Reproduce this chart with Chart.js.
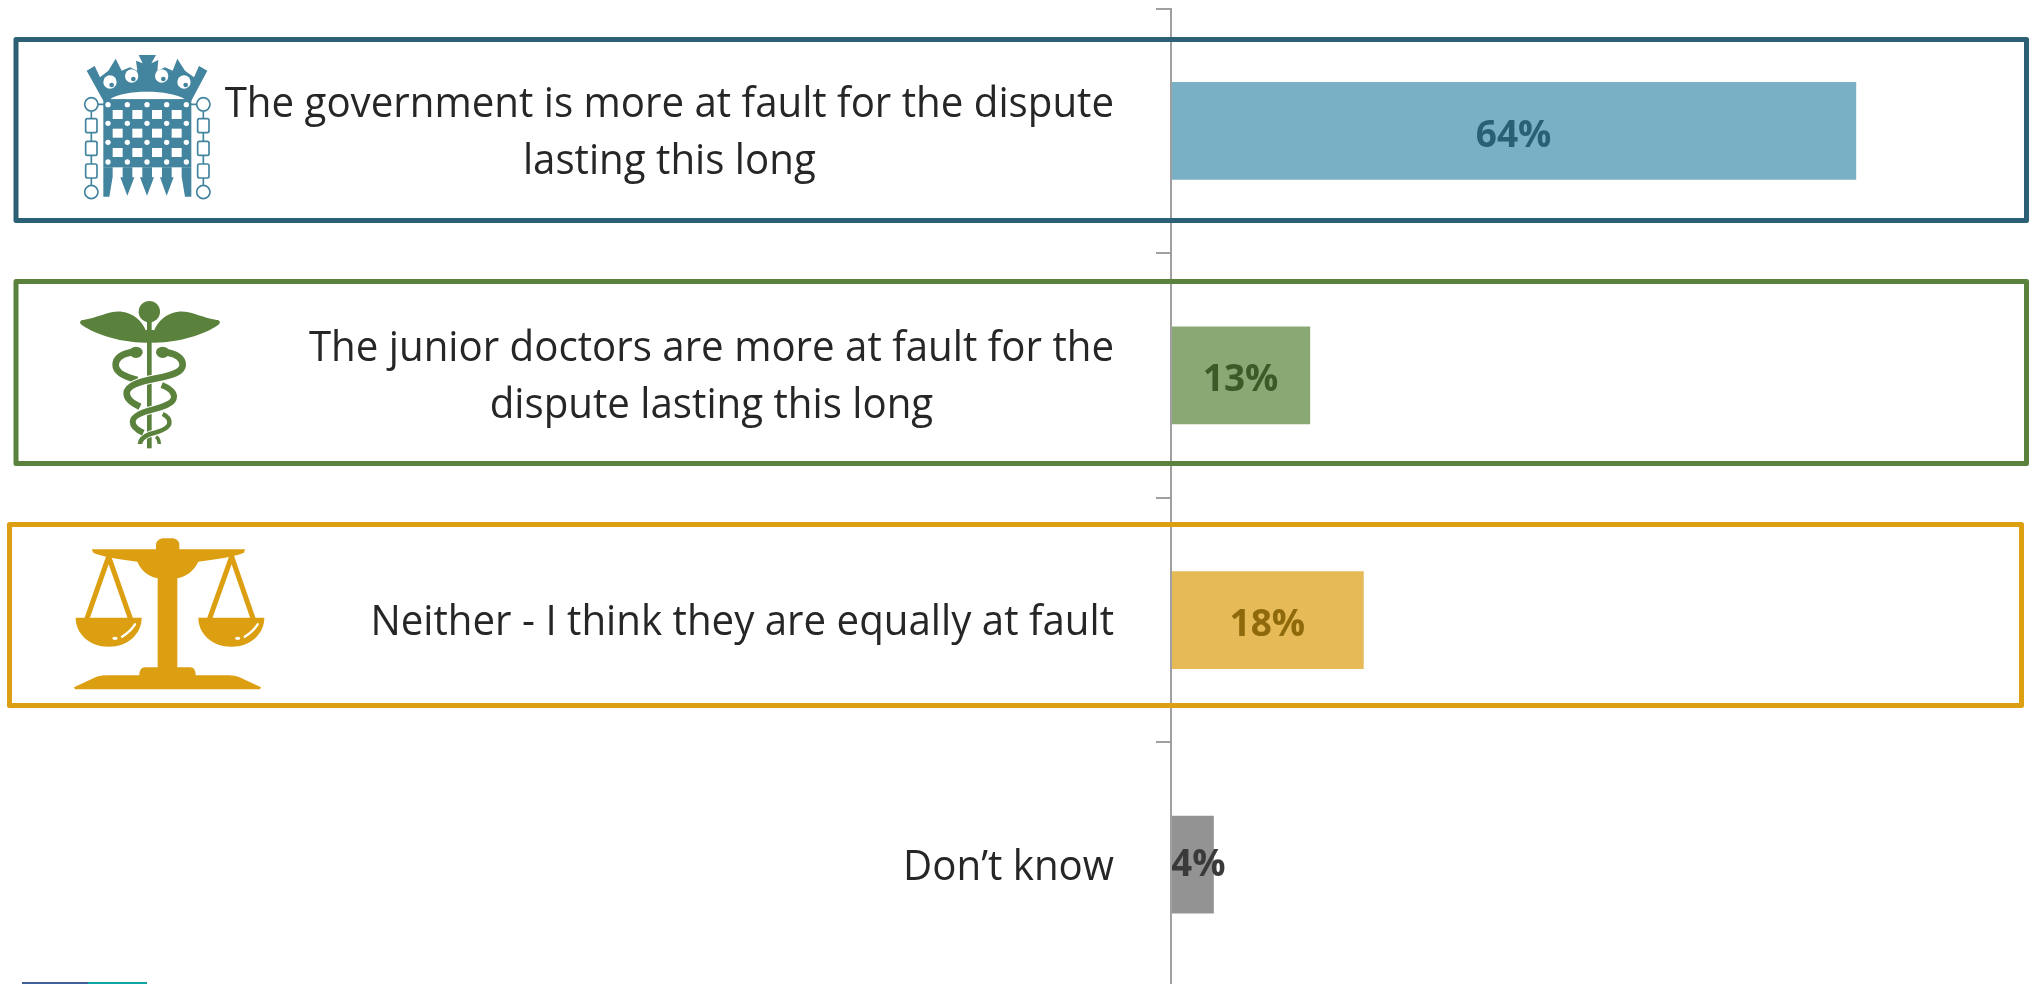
<!DOCTYPE html>
<html>
<head>
<meta charset="utf-8">
<title>Who is more at fault for the dispute</title>
<script src="https://cdn.jsdelivr.net/npm/chart.js@4"></script>
<style>
  html, body { margin: 0; padding: 0; background: #fff; overflow: hidden; width: 2031px; height: 984px; }
  canvas { display: block; }
</style>
</head>
<body>
<canvas id="faultChart" width="2031" height="990"></canvas>
<script>
const categories = [
    ["The government is more at fault for the dispute", "lasting this long"],
    ["The junior doctors are more at fault for the", "dispute lasting this long"],
    "Neither - I think they are equally at fault",
    "Don\u2019t know"
];
const values = [64, 13, 18, 4];
const barColors = ["#7AB0C5", "#8AA874", "#E5BA57", "#939393"];
const valueColors = ["#2A5F74", "#3C5A28", "#8F6A0C", "#3A3A3A"];
const valueDrop = [16, 16, 16, 11];

const axisColor = "#A0A0A0";
const textFont = "'Open Sans', sans-serif";
const labelRight = 1114;
const labelSqueeze = 0.958;

// coloured frames round the first three rows: x, y, w, h, colour
const frames = [
    [16, 39.5, 2010.5, 181, "#2C6075"],
    [16, 281.5, 2010.5, 182, "#5A823C"],
    [9.5, 524.5, 2012, 181, "#DB9F11"]
];

// the icons are drawn at 3x from their own origin
function inIcon(ctx, x, y, draw){
    ctx.save();
    ctx.translate(x, y);
    ctx.scale(1 / 3, 1 / 3);
    draw();
    ctx.restore();
}

function dot(ctx, x, y, r){
    ctx.beginPath();
    ctx.arc(x, y, r, 0, Math.PI * 2);
    ctx.fill();
}

function drawPortcullis(ctx){
    const c = "#43849E";
    ctx.fillStyle = c;
    ctx.fill(new Path2D("M160 182 L110 92 L134 78 L150 112 L175 92 L197 56 L215 92 L240 82 L262 92 L258 62 L278 70 L266 45 L318 45 L304 70 L325 60 L322 92 L345 82 L368 92 L382 56 L405 92 L432 112 L447 78 L472 92 L424 182 Z"));
    ctx.fillStyle = "#fff";
    ctx.fill(new Path2D("M180 178 C220 148 360 148 405 178 Z"));
    [[180, 126, 20], [245, 108, 20], [335, 108, 20], [402, 126, 20]].forEach(function(b){
        ctx.fillStyle = "#fff";
        dot(ctx, b[0], b[1], b[2]);
        ctx.fillStyle = c;
        dot(ctx, b[0] + 5, b[1] + 9, 7);
    });
    // body and spikes
    ctx.fillStyle = c;
    ctx.fillRect(160, 178, 264, 204);
    ctx.fill(new Path2D("M160 382 L160 470 L178 470 L188 410 L188 382 Z M424 382 L424 470 L405 470 L395 410 L395 382 Z"));
    ctx.fill(new Path2D("M218 382 L247 382 L247 412 L253 412 L232 467 L211 412 L218 412 Z"));
    ctx.fill(new Path2D("M277 382 L306 382 L306 412 L312 412 L291 467 L270 412 L277 412 Z"));
    ctx.fill(new Path2D("M336 382 L365 382 L365 412 L371 412 L350 467 L330 412 L336 412 Z"));
    ctx.fillStyle = "#fff";
    [210, 266, 324].forEach(function(y){
        [188, 247, 306, 365].forEach(function(x){
            ctx.fillRect(x, y, 30, 27);
        });
    });
    [194, 250, 307, 366].forEach(function(y){
        [174, 232, 291, 350, 409].forEach(function(x){
            dot(ctx, x, y, 8);
        });
    });
    // chains
    ctx.strokeStyle = c;
    ctx.lineWidth = 5;
    [[124, 144, 165], [460, 440, 418]].forEach(function(side){
        const x = side[0];
        ctx.beginPath();
        ctx.moveTo(side[1], 193);
        ctx.lineTo(side[2], 193);
        ctx.moveTo(x, 213);
        ctx.lineTo(x, 436);
        ctx.stroke();
        [236, 304, 372].forEach(function(y){
            ctx.beginPath();
            ctx.roundRect(x - 17, y, 34, 42, 5);
            ctx.fillStyle = "#fff";
            ctx.fill();
            ctx.stroke();
        });
        [193, 456].forEach(function(y){
            ctx.beginPath();
            ctx.arc(x, y, 20, 0, Math.PI * 2);
            ctx.stroke();
        });
    });
}

function drawCaduceus(ctx){
    const c = "#5A823C";
    function strand(path, w){
        const p = new Path2D(path);
        ctx.lineCap = "butt";
        ctx.strokeStyle = "#fff";
        ctx.lineWidth = w + 6;
        ctx.stroke(p);
        ctx.strokeStyle = c;
        ctx.lineWidth = w;
        ctx.stroke(p);
    }
    ctx.fillStyle = c;
    ctx.fillRect(291, 90, 14, 385);
    dot(ctx, 298, 65, 32);
    ctx.fill(new Path2D("M288 158 C200 158 120 125 92 102 C88 95 92 90 100 90 C140 85 175 62 215 65 C250 68 278 95 288 122 Z"));
    ctx.fill(new Path2D("M312 158 C400 158 480 125 508 102 C512 95 508 90 500 90 C460 85 425 62 385 65 C350 68 322 95 312 122 Z"));
    ctx.fillRect(288, 120, 24, 38);
    strand("M318 440 C325 445 328 455 328 462", 10);
    strand("M338 372 C355 380 360 390 358 400 C355 415 330 425 300 432 C280 440 270 450 270 462", 14);
    strand("M335 285 C360 295 372 305 372 320 C372 340 340 350 310 358 C270 368 248 380 248 395 C248 410 262 420 280 428", 18);
    strand("M258 185 C215 190 197 205 197 225 C197 250 230 262 262 270", 20);
    strand("M335 185 C380 190 398 205 398 225 C398 245 370 255 320 265 C270 275 230 285 230 310 C230 330 250 340 270 350", 20);
    ctx.fillStyle = c;
    [258, 338].forEach(function(x){
        ctx.beginPath();
        ctx.ellipse(x, 187, 20, 17, 0, 0, Math.PI * 2);
        ctx.fill();
    });
}

function drawScales(ctx){
    const c = "#DB9F11";
    ctx.fillStyle = c;
    ctx.strokeStyle = c;
    ctx.fill(new Path2D("M125 58 L318 58 L318 45 C318 32 330 25 342 25 L365 25 C378 25 388 32 388 45 L388 58 L585 58 L582 68 C560 78 500 88 445 95 C430 125 410 138 382 145 L382 412 L420 412 C432 412 437 422 437 436 L535 436 C550 436 565 440 575 445 L633 472 L630 478 L75 478 L72 472 L130 445 C140 440 155 436 170 436 L268 436 C268 422 274 412 285 412 L323 412 L323 145 C295 138 275 125 262 95 C205 88 150 78 130 68 Z"));
    [[176, 110, 242], [545, 478, 610]].forEach(function(t){
        ctx.lineWidth = 15;
        ctx.beginPath();
        ctx.moveTo(t[1], 268);
        ctx.lineTo(t[0], 80);
        ctx.lineTo(t[2], 268);
        ctx.stroke();
    });
    [176, 544].forEach(function(x){
        ctx.fillStyle = c;
        ctx.fill(new Path2D("M" + (x - 99) + " 263 L" + (x + 99) + " 263 C" + (x + 99) + " 310 " + (x + 59) + " 350 " + x + " 350 C" + (x - 59) + " 350 " + (x - 99) + " 310 " + (x - 99) + " 263 Z"));
        ctx.strokeStyle = "#fff";
        ctx.lineWidth = 7;
        ctx.lineCap = "round";
        ctx.beginPath();
        ctx.moveTo(x + 40, 320);
        ctx.quadraticCurveTo(x + 65, 305, x + 79, 283);
        ctx.stroke();
        ctx.fillStyle = "#fff";
        ctx.beginPath();
        ctx.ellipse(x + 19, 325, 8, 5, 0, 0, Math.PI * 2);
        ctx.fill();
        ctx.strokeStyle = c;
        ctx.lineCap = "butt";
    });
}

// row labels are centred on each other but right aligned as a block,
// which the axis ticks can't do, so they get drawn here
const rowLabels = {
    id: "rowLabels",
    afterDraw(chart){
        const ctx = chart.ctx;
        const y = chart.scales.y;
        ctx.save();
        ctx.font = "42px " + textFont;
        ctx.fillStyle = "#262626";
        ctx.textBaseline = "alphabetic";
        chart.data.labels.forEach(function(label, i){
            const lines = Array.isArray(label) ? label : [label];
            const center = y.getPixelForTick(i);
            const blockWidth = Math.max.apply(null, lines.map(l => ctx.measureText(l).width));
            lines.forEach(function(line, n){
                const w = ctx.measureText(line).width;
                ctx.save();
                ctx.translate(labelRight, center + 15 - 29 * (lines.length - 1) + 57 * n);
                ctx.scale(labelSqueeze, 1);
                ctx.fillText(line, -blockWidth + (blockWidth - w) / 2, 0);
                ctx.restore();
            });
        });
        ctx.restore();
    }
};

const valueLabels = {
    id: "valueLabels",
    afterDatasetsDraw(chart){
        const ctx = chart.ctx;
        const meta = chart.getDatasetMeta(0);
        ctx.save();
        ctx.font = "bold 37px " + textFont;
        ctx.textAlign = "center";
        ctx.textBaseline = "alphabetic";
        meta.data.forEach(function(bar, i){
            const text = values[i] + "%";
            const half = ctx.measureText(text).width / 2;
            const x = Math.max((bar.base + bar.x) / 2, bar.base + half);
            ctx.fillStyle = valueColors[i];
            ctx.fillText(text, x, bar.y + valueDrop[i]);
        });
        ctx.restore();
    }
};

const decorations = {
    id: "decorations",
    afterDraw(chart){
        const ctx = chart.ctx;
        ctx.save();
        frames.forEach(function(f){
            ctx.strokeStyle = f[4];
            ctx.lineWidth = 5;
            ctx.lineJoin = "round";
            ctx.strokeRect(f[0], f[1], f[2], f[3]);
        });
        ctx.lineJoin = "miter";
        inIcon(ctx, 50, 40, function(){ drawPortcullis(ctx); });
        inIcon(ctx, 50, 290, function(){ drawCaduceus(ctx); });
        inIcon(ctx, 50, 530, function(){ drawScales(ctx); });
        // corner of the slide footer showing at the bottom
        ctx.fillStyle = "#46609F";
        ctx.fillRect(22, 982, 66, 2);
        ctx.fillStyle = "#0FA3A3";
        ctx.fillRect(88, 982, 59, 2);
        ctx.restore();
    }
};

var ctx = document.getElementById("faultChart").getContext("2d");
var myChart = new Chart(ctx, {
    type: "bar",
    data: {
        labels: categories,
        datasets: [{
            data: values,
            backgroundColor: barColors,
            borderWidth: 0,
            barPercentage: 0.4,
            categoryPercentage: 1
        }]
    },
    options: {
        indexAxis: "y",
        responsive: false,
        animation: false,
        layout: { padding: { top: 8.5, bottom: 3, left: 0, right: 3.5 } },
        plugins: { legend: { display: false }, title: { display: false }, tooltip: { enabled: false } },
        scales: {
            x: { display: false, min: 0, max: 80 },
            y: {
                offset: true,
                afterFit: function(scale){ scale.width = 1171; },
                ticks: { display: false },
                border: { color: axisColor, width: 2, z: 1 },
                grid: { offset: true, drawOnChartArea: false, color: axisColor, lineWidth: 2, tickLength: 15, z: 1 }
            }
        }
    },
    plugins: [valueLabels, rowLabels, decorations]
});
</script>
</body>
</html>
